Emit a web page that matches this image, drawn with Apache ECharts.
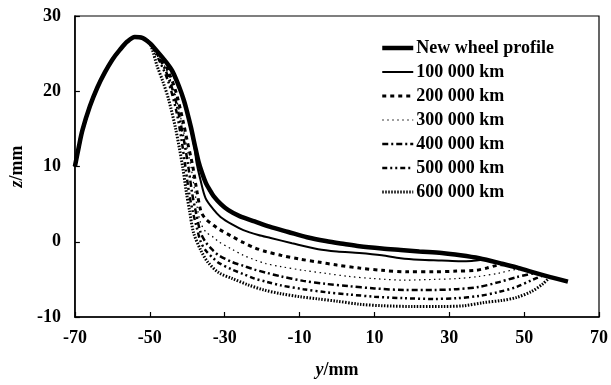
<!DOCTYPE html>
<html><head><meta charset="utf-8">
<script src="https://cdn.jsdelivr.net/npm/echarts@6/dist/echarts.min.js"></script>
<style>html,body{margin:0;padding:0;background:#fff}#c{width:611px;height:385px}</style>
</head><body><div id="c"></div>
<script>
const seriesNames = ['New wheel profile','100 000 km','200 000 km','300 000 km','400 000 km','500 000 km','600 000 km'];
const xTickLabels = [-70,-50,-30,-10,10,30,50,70];
const yTickLabels = [-10,0,10,20,30];

// common unworn part of the flange (shared by all profiles)
const leftFlank = [[-70,10],[-69,12.5],[-68,14.8],[-66,18],[-64,20.5],[-62,22.5],[-60,24.2],[-58,25.5],[-56,26.6],[-54,27.2],[-52,27.1],[-50,26.4]];

const newWheel = [[-48,25.3],[-46,24.1],[-44,22.7],[-42,20.4],[-40.9,18.8],[-40,17.2],[-39,15.2],[-38,12.9],[-37,10.7],[-36,9.1],[-35,7.8],[-34,6.9],[-33,6.1],[-31,5.0],[-29,4.2],[-26,3.4],[-22,2.7],[-18,2.0],[-13,1.3],[-8,0.6],[-3,0.1],[2,-0.3],[6,-0.6],[12,-0.9],[17,-1.1],[22,-1.3],[28,-1.5],[33,-1.8],[38,-2.2],[44,-2.9],[48,-3.4],[52,-4.0],[57,-4.7],[61.7,-5.3]];

const km100 = [[-48,25.2],[-46,24],[-44,22.4],[-42,20.2],[-40,17],[-39,14.8],[-38,12.3],[-37.5,10.5],[-36.5,8.3],[-35.1,5.8],[-33,4.3],[-31.1,3.3],[-28,2.3],[-25,1.55],[-21,0.9],[-17.7,0.5],[-12,-0.2],[-5,-1.0],[0,-1.3],[6,-1.5],[12,-1.8],[17,-2.2],[22,-2.4],[28,-2.5],[33,-2.6],[36,-2.55],[39,-2.4],[42,-2.6]];

const km200 = [[-47,24.6],[-45,22.6],[-43,19.9],[-41,15.8],[-40,13.4],[-39,11.2],[-38.5,10],[-37.5,7],[-36.3,4.0],[-35,3.0],[-33,2.2],[-31.6,1.7],[-28,0.7],[-25,-0.1],[-22,-0.8],[-19,-1.3],[-15,-1.8],[-10,-2.3],[-5,-2.7],[0,-3.1],[6,-3.5],[12,-3.8],[19,-4.0],[26,-4.0],[32,-3.9],[37,-3.8],[40,-3.5],[43,-3.1],[45,-3.0]];

const km300 = [[-47,24.3],[-45,22.2],[-43,19.2],[-41,14.8],[-40,12.3],[-39,10],[-38,6.8],[-37.2,4.2],[-36.4,2.5],[-35,1.3],[-33,0.6],[-31.6,0],[-28,-1.0],[-25,-1.8],[-22,-2.4],[-19,-2.9],[-15,-3.3],[-9,-3.8],[-3,-4.2],[3,-4.6],[10,-4.9],[18,-5.1],[26,-5.0],[32,-4.9],[38,-4.6],[43,-4.2],[48,-3.7],[50,-3.7]];

const km400 = [[-47,24],[-45,21.8],[-43,18.6],[-41,13.8],[-39.7,10],[-38.7,6.5],[-37.8,4.2],[-36.4,1.2],[-35,-0.1],[-33,-1.2],[-31.6,-1.8],[-28,-2.7],[-25,-3.2],[-22,-3.7],[-19,-4.1],[-15,-4.6],[-9,-5.2],[-3,-5.6],[3,-5.9],[10,-6.2],[18,-6.4],[26,-6.4],[32,-6.3],[38,-6.0],[43,-5.4],[48,-4.7],[53,-4.15]];

const km500 = [[-47,23.6],[-45,21.2],[-43,17.6],[-41.5,13.5],[-40.5,10],[-39.5,6.5],[-38.6,4.2],[-37.5,2.0],[-36.4,0],[-35,-1.2],[-33,-2.2],[-31.6,-2.8],[-28,-3.7],[-25,-4.3],[-22,-4.9],[-19,-5.3],[-15,-5.8],[-9,-6.3],[-3,-6.7],[3,-7.0],[10,-7.3],[18,-7.5],[26,-7.6],[32,-7.5],[38,-7.2],[43,-6.7],[48,-6.0],[52,-5.1],[55,-4.5]];

const km600 = [[-48,23.3],[-46.5,21.3],[-44.9,18.8],[-43,14.8],[-41.2,9.9],[-40.2,6.5],[-39.4,4.2],[-38.3,1.2],[-36.4,-1.1],[-34.5,-2.7],[-31.6,-4.1],[-27.9,-4.9],[-23.6,-5.75],[-19.6,-6.4],[-15,-6.9],[-10,-7.3],[-5,-7.6],[0,-7.9],[6,-8.3],[12,-8.5],[20,-8.6],[28,-8.6],[34,-8.5],[39,-8.1],[44,-7.8],[48,-7.4],[52,-6.6],[55,-5.6],[56.5,-4.9]];

const profiles = [newWheel, km100, km200, km300, km400, km500, km600];
const styles = [
  {width:4.5, type:'solid'},
  {width:2, type:'solid'},
  {width:3, type:[4,4]},
  {width:1.2, type:[1.5,3.5]},
  {width:2.5, type:[6,3,2,3]},
  {width:2.5, type:[5,3,2,3,2,3]},
  {width:3, type:[1.5,1.5]}
];
const FONT = "'Liberation Serif','Times New Roman',serif";

const chart = echarts.init(document.getElementById('c'), null, {renderer:'canvas'});
chart.setOption({
  animation:false,
  backgroundColor:'#fff',
  grid:{left:74, right:12, top:16, bottom:68, show:true, borderColor:'#000', borderWidth:1.2},
  legend:{
    orient:'vertical', left:375, top:33, itemWidth:31, itemHeight:14, itemGap:4,
    itemStyle:{color:'rgba(0,0,0,0)', borderWidth:0, opacity:0},
    textStyle:{fontFamily:FONT, fontSize:18, fontWeight:'bold', color:'#000', lineHeight:20, padding:[0,0,0,-2]},
    data:seriesNames.map((n,i)=>({name:n, lineStyle:{width:styles[i].width, type:styles[i].type, color:'#000', cap:'butt'}}))
  },
  xAxis:{
    type:'value', min:-70, max:70,
    name:'{i|y}/mm', nameLocation:'middle', nameGap:44,
    nameTextStyle:{fontFamily:FONT, fontSize:18, fontWeight:'bold', color:'#000',
      rich:{i:{fontFamily:FONT, fontSize:18, fontWeight:'bold', fontStyle:'italic', color:'#000'}}},
    axisLine:{onZero:false, lineStyle:{color:'#000', width:1.5}},
    axisTick:{inside:true, length:5, customValues:xTickLabels, lineStyle:{color:'#000', width:1.2}},
    axisLabel:{customValues:xTickLabels, margin:12, fontFamily:FONT, fontSize:18, fontWeight:'bold', color:'#000'},
    splitLine:{show:false}
  },
  yAxis:{
    type:'value', min:-10, max:30, interval:10,
    name:'{i|z}/mm', nameLocation:'middle', nameGap:48, nameRotate:90,
    nameTextStyle:{fontFamily:FONT, fontSize:18, fontWeight:'bold', color:'#000',
      rich:{i:{fontFamily:FONT, fontSize:18, fontWeight:'bold', fontStyle:'italic', color:'#000'}}},
    axisLine:{show:true, onZero:false, lineStyle:{color:'#000', width:1.5}},
    axisTick:{show:true, inside:true, length:5, lineStyle:{color:'#000', width:1.2}},
    axisLabel:{margin:14, fontFamily:FONT, fontSize:18, fontWeight:'bold', color:'#000'},
    splitLine:{show:false}
  },
  series: seriesNames.map((n,i)=>({
    name:n, type:'line', symbol:'none', smooth:0.3,
    data: leftFlank.concat(profiles[i]),
    lineStyle:{color:'#000', width:styles[i].width, type:styles[i].type, cap:'butt'},
    itemStyle:{color:'#000'},
    z: 10 - i
  }))
});
</script>
</body></html>
